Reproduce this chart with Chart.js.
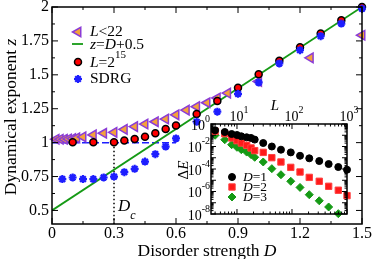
<!DOCTYPE html>
<html>
<head>
<meta charset="utf-8">
<script src="https://cdn.jsdelivr.net/npm/chart.js@4.4.0/dist/chart.umd.min.js"></script>
<style>
  html, body { margin: 0; padding: 0; background: #fff; }
  #wrap { position: relative; width: 374px; height: 259px; }
  #wrap canvas { position: absolute; left: 0; top: 0; }
</style>
</head>
<body>
<div id="wrap">
  <canvas id="main" width="374" height="259"></canvas>
  <canvas id="inset" width="374" height="259"></canvas>
</div>
<script>
// ---- main panel: z vs D ----
const edD = [0.02, 0.04, 0.06, 0.08, 0.1, 0.12, 0.15, 0.2, 0.25, 0.3, 0.35, 0.4, 0.45, 0.5, 0.55, 0.6, 0.65, 0.7, 0.75, 0.8, 0.85, 1.0, 1.25, 1.5];
const edZ = [1.025, 1.025, 1.025, 1.027, 1.03, 1.035, 1.042, 1.057, 1.069, 1.076, 1.098, 1.118, 1.137, 1.154, 1.174, 1.205, 1.24, 1.265, 1.294, 1.329, 1.365, 1.451, 1.625, 1.792];

const bigD = [0.1, 0.2, 0.3, 0.35, 0.4, 0.45, 0.5, 0.55, 0.6, 0.7, 0.8, 0.9, 1.0, 1.1, 1.2, 1.3, 1.4, 1.5];
const bigZ = [1.003, 1.003, 1.003, 1.015, 1.027, 1.044, 1.069, 1.1, 1.127, 1.211, 1.307, 1.404, 1.504, 1.603, 1.704, 1.804, 1.902, 2.0];

const sdrgD = [0.05, 0.1, 0.15, 0.2, 0.25, 0.3, 0.35, 0.4, 0.45, 0.5, 0.55, 0.6, 0.7, 0.8, 0.9, 1.0, 1.1, 1.2, 1.3, 1.4, 1.5];
const sdrgZ = [0.731, 0.743, 0.731, 0.731, 0.743, 0.75, 0.782, 0.807, 0.86, 0.915, 0.971, 1.031, 1.154, 1.228, 1.36, 1.444, 1.584, 1.682, 1.785, 1.878, 1.988];

// z = D + 0.5 guide, z = 1 dashed guide, D_c marker
const guideD = [0, 1.5];
const guideZ = [0.5, 2];
const flatD = [0, 0.6];
const flatZ = [1, 1];
const dcD = [0.3, 0.3];
const dcZ = [1, 0.4];

const xTickVals = [0, 0.3, 0.6, 0.9, 1.2, 1.5];
const yTickVals = [0.5, 0.75, 1, 1.25, 1.5, 1.75, 2];

// ---- inset: gap vs L ----
const sizeL = [4, 6, 8, 10, 12, 15, 18, 21, 30, 43, 63, 95, 140, 206, 313, 464, 695, 1000];
const gapD1 = [0.275, 0.195, 0.129, 0.105, 0.081, 0.066, 0.0575, 0.041, 0.0204, 0.01, 0.0052, 0.003, 0.0015, 0.00089, 0.00051, 0.000275, 0.00015, 0.000087];
const gapD2 = [0.224, 0.138, 0.0575, 0.033, 0.0204, 0.0129, 0.0074, 0.0043, 0.003, 0.00102, 0.00042, 0.00014, 5.4e-5, 1.8e-5, 8.1e-6, 2.9e-6, 1.3e-6, 4.3e-7];
const gapD3 = [0.1, 0.04, 0.0145, 0.0085, 0.0052, 0.0032, 0.0019, 0.0011, 4.2e-4, 1.07e-4, 3.1e-5, 8.1e-6, 2.3e-6, 5.2e-7, 1.5e-7, 4.2e-8, 1.07e-8];

const insetXTicks = [10, 100, 1000];
const insetXExp = ['1', '2', '3'];
const insetYTicks = [1, 1e-2, 1e-4, 1e-6, 1e-8];
const insetYExp = ['0', '-2', '-4', '-6', '-8'];

const SERIF = '"Liberation Serif", "Times New Roman", serif';
const TRI_FILL = '#f4a23a', TRI_EDGE = '#8b3cd6';
const BLUE = '#1e1eff', GREEN = '#159a15';

const pts = (xs, ys) => ys.map((v, i) => ({ x: xs[i], y: v }));

// draws text made of pieces: '' normal, 'i' italic, 'sup' / 'sub' small raised / lowered
function richText(ctx, parts, x, y, size, align) {
  const small = k => k.indexOf('sup') >= 0 || k.indexOf('sub') >= 0;
  const fontOf = k => (k.indexOf('i') === 0 ? 'italic ' : '') +
    (small(k) ? Math.round(size * 0.72) : size) + 'px ' + SERIF;
  let w = 0;
  parts.forEach(([t, k]) => { ctx.font = fontOf(k); w += ctx.measureText(t).width; });
  let cx = align === 'right' ? x - w : align === 'center' ? x - w / 2 : x;
  ctx.textBaseline = 'middle';
  ctx.textAlign = 'left';
  parts.forEach(([t, k]) => {
    ctx.font = fontOf(k);
    const dy = k.indexOf('sup') >= 0 ? -size * 0.5 : k.indexOf('sub') >= 0 ? size * 0.5 : 0;
    ctx.fillText(t, cx, y + dy);
    cx += ctx.measureText(t).width;
  });
}

function seg(ctx, x1, y1, x2, y2) {
  ctx.beginPath(); ctx.moveTo(x1, y1); ctx.lineTo(x2, y2); ctx.stroke();
}

const mainDeco = {
  id: 'mainDeco',
  afterDraw(chart) {
    const { ctx, chartArea: a, scales } = chart;
    const sx = scales.x, sy = scales.y;
    ctx.save();
    ctx.strokeStyle = '#000';
    ctx.lineWidth = 1.5;
    ctx.strokeRect(a.left, a.top, a.right - a.left, a.bottom - a.top);
    ctx.lineWidth = 1;
    // inward ticks on all four sides, minor halfway between majors
    xTickVals.forEach((v, i) => {
      const p = sx.getPixelForValue(v);
      seg(ctx, p, a.bottom, p, a.bottom - 6); seg(ctx, p, a.top, p, a.top + 6);
      if (i < xTickVals.length - 1) {
        const q = sx.getPixelForValue((v + xTickVals[i + 1]) / 2);
        seg(ctx, q, a.bottom, q, a.bottom - 3); seg(ctx, q, a.top, q, a.top + 3);
      }
    });
    yTickVals.forEach((v, i) => {
      const p = sy.getPixelForValue(v);
      seg(ctx, a.left, p, a.left + 6, p); seg(ctx, a.right, p, a.right - 6, p);
      if (i < yTickVals.length - 1) {
        const q = sy.getPixelForValue((v + yTickVals[i + 1]) / 2);
        seg(ctx, a.left, q, a.left + 3, q); seg(ctx, a.right, q, a.right - 3, q);
      }
    });

    ctx.fillStyle = '#000';
    // axis titles
    richText(ctx, [['Disorder strength ', ''], ['D', 'i']], (a.left + a.right) / 2, 251, 17.5, 'center');
    ctx.save();
    ctx.translate(11, 117);
    ctx.rotate(-Math.PI / 2);
    richText(ctx, [['Dynamical exponent ', ''], ['z', 'i']], 0, 0, 17.5, 'center');
    ctx.restore();

    // D_c label
    richText(ctx, [['D', 'i'], ['c', 'isub']], sx.getPixelForValue(0.3) + 4, 207, 17, 'left');

    // legend
    const mx = a.left + 25, tx = a.left + 38;
    ctx.lineWidth = 1.5;
    ctx.fillStyle = TRI_FILL; ctx.strokeStyle = TRI_EDGE;
    Chart.helpers.drawPoint(ctx, { pointStyle: 'triangle', radius: 5.5, rotation: -90, borderWidth: 1.5 }, mx + 1, 32);
    ctx.strokeStyle = GREEN; ctx.lineWidth = 1.8;
    seg(ctx, mx - 5, 44, mx + 6, 44);
    ctx.fillStyle = '#ff0000'; ctx.strokeStyle = '#000'; ctx.lineWidth = 1.5;
    Chart.helpers.drawPoint(ctx, { pointStyle: 'circle', radius: 3.5, borderWidth: 1.5 }, mx + 1, 62);
    ctx.strokeStyle = BLUE; ctx.fillStyle = BLUE; ctx.lineWidth = 2.2;
    Chart.helpers.drawPoint(ctx, { pointStyle: 'star', radius: 4, borderWidth: 2.2 }, mx + 1, 79);

    ctx.fillStyle = '#000';
    richText(ctx, [['L', 'i'], ['<22', '']], tx, 32, 15.5, 'left');
    richText(ctx, [['z', 'i'], ['=', ''], ['D', 'i'], ['+0.5', '']], tx, 45, 15.5, 'left');
    richText(ctx, [['L', 'i'], ['=2', ''], ['15', 'sup']], tx, 63, 15.5, 'left');
    richText(ctx, [['SDRG', '']], tx, 79, 15.5, 'left');
    ctx.restore();
  }
};

new Chart(document.getElementById('main').getContext('2d'), {
  type: 'scatter',
  data: {
    datasets: [
      { label: 'SDRG', data: pts(sdrgD, sdrgZ), order: 1, clip: false,
        pointStyle: 'star', pointRadius: 4, borderWidth: 2.2,
        borderColor: BLUE, backgroundColor: BLUE },
      { label: 'L=2^15', data: pts(bigD, bigZ), order: 2, clip: false,
        pointStyle: 'circle', pointRadius: 3.5, borderWidth: 1.5,
        borderColor: '#000', backgroundColor: '#ff0000' },
      { label: 'L<22', data: pts(edD, edZ), order: 3, clip: false,
        pointStyle: 'triangle', rotation: -90, pointRadius: 5.5, borderWidth: 1.5,
        borderColor: TRI_EDGE, backgroundColor: TRI_FILL },
      { label: 'z=D+0.5', data: pts(guideD, guideZ), order: 4, showLine: true,
        pointRadius: 0, borderColor: GREEN, borderWidth: 1.8 },
      { label: 'z=1', data: pts(flatD, flatZ), order: 5, showLine: true,
        pointRadius: 0, borderColor: BLUE, borderWidth: 1.5, borderDash: [7, 3] },
      { label: 'Dc', data: pts(dcD, dcZ), order: 6, showLine: true,
        pointRadius: 0, borderColor: '#000', borderWidth: 1.5, borderDash: [1.5, 2.5] }
    ]
  },
  options: {
    responsive: false,
    animation: false,
    devicePixelRatio: 1,
    layout: { padding: { left: 0, top: 7, right: 12, bottom: 0 } },
    plugins: { legend: { display: false }, tooltip: { enabled: false } },
    scales: {
      x: {
        type: 'linear', min: 0, max: 1.5,
        grid: { display: false, drawTicks: false },
        border: { display: false },
        ticks: { color: '#000', padding: 2, maxRotation: 0,
          font: { family: SERIF, size: 16, lineHeight: 1 },
          callback: v => String(v) },
        afterBuildTicks: s => { s.ticks = xTickVals.map(v => ({ value: v })); },
        afterFit: s => { s.height = 35; s.paddingLeft = 0; s.paddingRight = 0; }
      },
      y: {
        type: 'linear', min: 0.4, max: 2,
        grid: { display: false, drawTicks: false },
        border: { display: false },
        ticks: { color: '#000', padding: 3,
          font: { family: SERIF, size: 16, lineHeight: 1 },
          callback: v => String(v) },
        afterBuildTicks: s => { s.ticks = yTickVals.map(v => ({ value: v })); },
        afterFit: s => { s.width = 52; s.paddingTop = 0; s.paddingBottom = 0; }
      }
    }
  },
  plugins: [mainDeco]
});

// ---- inset ----
const insetDeco = {
  id: 'insetDeco',
  beforeDatasetsDraw(chart) {
    const { ctx, chartArea: a } = chart;
    ctx.save();
    ctx.fillStyle = '#fff';
    ctx.fillRect(a.left, a.top, a.right - a.left, a.bottom - a.top);
    ctx.restore();
  },
  afterDraw(chart) {
    const { ctx, chartArea: a, scales } = chart;
    const sx = scales.x, sy = scales.y;
    ctx.save();
    ctx.strokeStyle = '#000';
    ctx.lineWidth = 1.5;
    ctx.strokeRect(a.left, a.top, a.right - a.left, a.bottom - a.top);
    ctx.lineWidth = 1;
    for (let k = 0; k <= 3; k++) {
      for (let m = 1; m <= 9; m++) {
        const v = m * Math.pow(10, k);
        if (v < sx.min || v > sx.max) continue;
        const p = sx.getPixelForValue(v), len = m === 1 ? 5 : 2.5;
        seg(ctx, p, a.bottom, p, a.bottom - len); seg(ctx, p, a.top, p, a.top + len);
      }
    }
    for (let k = -8; k <= 0; k++) {
      for (let m = 1; m <= 9; m++) {
        const v = m * Math.pow(10, k);
        if (v < sy.min * 0.999 || v > sy.max * 1.001) continue;
        const p = sy.getPixelForValue(v), len = m === 1 ? 5 : 2.5;
        seg(ctx, a.left, p, a.left + len, p); seg(ctx, a.right, p, a.right - len, p);
      }
    }
    ctx.fillStyle = '#000';
    insetXTicks.forEach((v, i) => {
      richText(ctx, [['10', ''], [insetXExp[i], 'sup']], sx.getPixelForValue(v) + 2, a.top - 7, 14, 'center');
    });
    insetYTicks.forEach((v, i) => {
      richText(ctx, [['10', ''], [insetYExp[i], 'sup']], a.left - 1, sy.getPixelForValue(v) + 2, 14, 'right');
    });
    richText(ctx, [['L', 'i']], 275, 106, 15, 'center');
    ctx.save();
    ctx.translate(184, 170);
    ctx.rotate(-Math.PI / 2);
    richText(ctx, [['\u0394', ''], ['E', 'i']], 0, 0, 15, 'center');
    ctx.restore();

    // legend
    const mx = a.left + 21, tx = a.left + 32;
    ctx.fillStyle = '#000'; ctx.strokeStyle = '#000'; ctx.lineWidth = 1;
    Chart.helpers.drawPoint(ctx, { pointStyle: 'circle', radius: 3.5, borderWidth: 1 }, mx, 177);
    ctx.fillStyle = '#ff1a1a'; ctx.strokeStyle = '#ff4040';
    Chart.helpers.drawPoint(ctx, { pointStyle: 'rect', radius: 4.5, borderWidth: 1 }, mx, 187);
    ctx.fillStyle = GREEN; ctx.strokeStyle = GREEN;
    Chart.helpers.drawPoint(ctx, { pointStyle: 'rectRot', radius: 4, borderWidth: 1 }, mx, 197);
    ctx.fillStyle = '#000';
    richText(ctx, [['D', 'i'], ['=1', '']], tx, 177, 13.5, 'left');
    richText(ctx, [['D', 'i'], ['=2', '']], tx, 187, 13.5, 'left');
    richText(ctx, [['D', 'i'], ['=3', '']], tx, 197, 13.5, 'left');
    ctx.restore();
  }
};

new Chart(document.getElementById('inset').getContext('2d'), {
  type: 'scatter',
  data: {
    datasets: [
      { label: 'D=1', data: pts(sizeL, gapD1), order: 1, clip: false,
        pointStyle: 'circle', pointRadius: 3.5, borderWidth: 1,
        borderColor: '#000', backgroundColor: '#000' },
      { label: 'D=2', data: pts(sizeL, gapD2), order: 2, clip: false,
        pointStyle: 'rect', pointRadius: 4.5, borderWidth: 1,
        borderColor: '#ff4040', backgroundColor: '#ff1a1a' },
      { label: 'D=3', data: pts(sizeL, gapD3), order: 3, clip: false,
        pointStyle: 'rectRot', pointRadius: 4, borderWidth: 1,
        borderColor: GREEN, backgroundColor: GREEN }
    ]
  },
  options: {
    responsive: false,
    animation: false,
    devicePixelRatio: 1,
    layout: { padding: { left: 211, top: 124, right: 27, bottom: 45 } },
    plugins: { legend: { display: false }, tooltip: { enabled: false } },
    scales: {
      x: { type: 'logarithmic', min: 3.37, max: 1000, display: false },
      y: { type: 'logarithmic', min: 1e-8, max: 1, display: false }
    }
  },
  plugins: [insetDeco]
});
</script>
</body>
</html>
